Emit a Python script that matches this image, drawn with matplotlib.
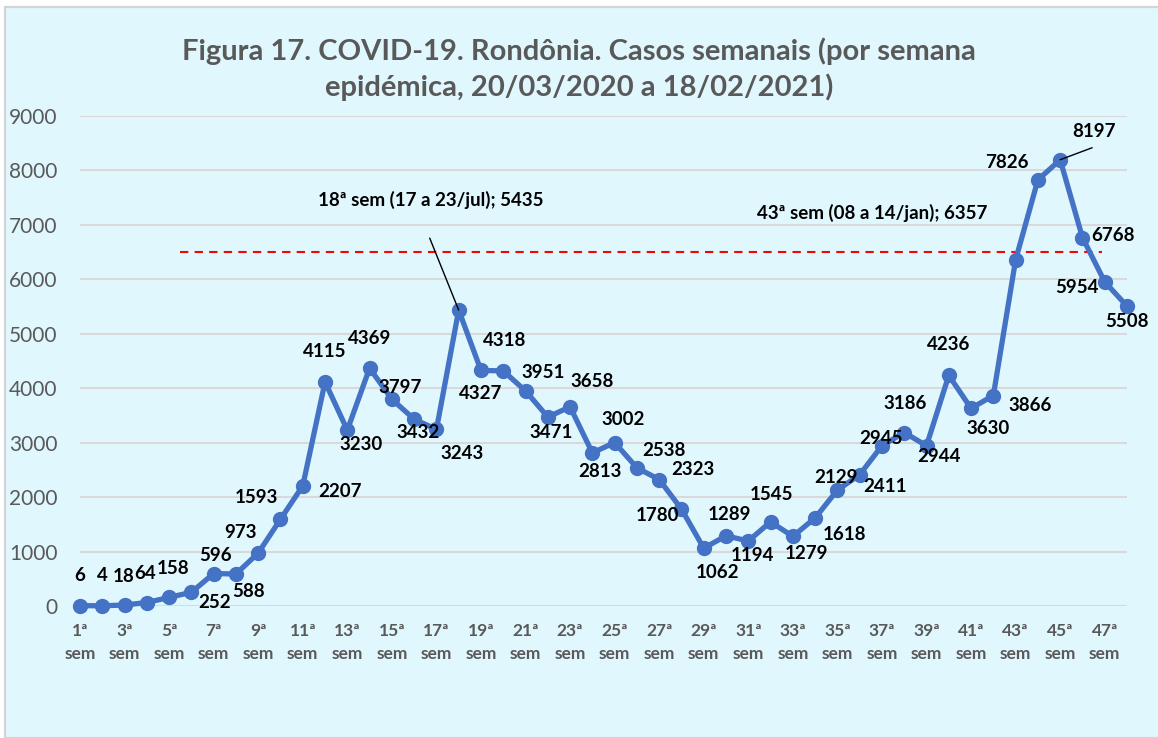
import matplotlib.pyplot as plt
from matplotlib.patches import Rectangle

plt.rcParams['font.family'] = ['Lato', 'DejaVu Sans']

# Casos semanais, semanas epidemiológicas 1 a 48
semanas = list(range(1, 49))
casos = [6, 4, 18, 64, 158, 252, 596, 588, 973, 1593, 2207, 4115, 3230, 4369,
         3797, 3432, 3243, 5435, 4327, 4318, 3951, 3471, 3658, 2813, 3002, 2538,
         2323, 1780, 1062, 1289, 1194, 1545, 1279, 1618, 2129, 2411, 2945, 3186,
         2944, 4236, 3630, 3866, 6357, 7826, 8197, 6768, 5954, 5508]
tick_semanas = list(range(1, 48, 2))
tick_labels = [f"{s}ª\nsem" for s in tick_semanas]
limiar = 6500
limiar_inicio, limiar_fim = 5.5, 46.9

# deslocamento dos rótulos em pixels (dx, dy para cima)
offsets = {
    1: (0, 30), 2: (0, 30), 3: (-1, 29), 4: (-2, 29), 5: (4, 29), 6: (23, -10),
    7: (2, 18), 8: (13, -18), 9: (-18, 21), 10: (-24, 22), 11: (37, -6),
    12: (0, 30), 13: (14, -14), 14: (0, 30), 15: (8, 12), 16: (4, -13),
    17: (26, -24), 19: (0, -23), 20: (1, 30), 21: (18, 18), 22: (3, -15),
    23: (22, 25), 24: (8, -19), 25: (8, 23), 26: (27, 17), 27: (34, 10),
    28: (-24, -6), 29: (14, -24), 30: (3, 21), 31: (4, -15), 32: (1, 27),
    33: (14, -17), 34: (29, -17), 35: (-1, 13), 36: (25, -12), 37: (-1, 7),
    38: (1, 29), 39: (12, -11), 40: (0, 31), 41: (17, -20), 42: (37, -10),
    44: (-31, 17), 46: (31, 2), 47: (-28, -6), 48: (0, -15),
}

W, H = 1158, 738
fig = plt.figure(figsize=(W / 100, H / 100), dpi=100)
fig.patch.set_facecolor('white')
fig.patches.append(Rectangle((5 / W, 0), 1, 1 - 7 / H, transform=fig.transFigure,
                             facecolor='#E1F7FE', edgecolor='#D4D4D4', linewidth=1.6, zorder=-10))

ax = fig.add_axes([80 / W, 1 - 606 / H, (1127 - 80) / W, (606 - 116) / H])
ax.set_facecolor('none')
ax.set_xlim(1, 48)
ax.set_ylim(0, 9000)
ax.set_yticks(range(0, 9001, 1000))
ax.yaxis.grid(True, color='#D9D9D9', linewidth=1.5)
ax.set_axisbelow(True)
for s in ax.spines.values():
    s.set_visible(False)
ax.tick_params(axis='y', length=0, pad=16, labelsize=15, labelcolor='#595959')
ax.tick_params(axis='x', length=0, pad=12, labelsize=12.5, labelcolor='#595959')
ax.set_xticks(tick_semanas)
ax.set_xticklabels(tick_labels, fontweight='bold', linespacing=1.55)

ax.plot([limiar_inicio, limiar_fim], [limiar, limiar], color='#FF0000',
        linestyle=(0, (4, 3)), linewidth=1.5, zorder=2)
ax.plot(semanas, casos, color='#4472C4', linewidth=3.8, marker='o',
        markersize=10, clip_on=False, zorder=3)

k = 0.72
for s, v in zip(semanas, casos):
    if s in offsets:
        dx, dy = offsets[s]
        ax.annotate(str(v), (s, v), xytext=(dx * k, dy * k), textcoords='offset points',
                    ha='center', va='center', fontsize=13.5, fontweight='bold',
                    color='black', zorder=4)

# anotações
ax.annotate(f"18ª sem (17 a 23/jul); {casos[17]}", (18, casos[17]),
            xytext=(-28 * k, 110 * k), textcoords='offset points',
            ha='center', va='center', fontsize=13.5, fontweight='bold')
ax.annotate("", (18, casos[17]), xytext=(-29 * k, 72 * k), textcoords='offset points',
            arrowprops=dict(arrowstyle='-', color='black', linewidth=1, shrinkA=0, shrinkB=0))
ax.annotate(f"43ª sem (08 a 14/jan); {casos[42]}", (43, casos[42]),
            xytext=(-143 * k, 47 * k), textcoords='offset points',
            ha='center', va='center', fontsize=13.5, fontweight='bold')
ax.annotate(str(casos[44]), (45, casos[44]), xytext=(34 * k, 28 * k), textcoords='offset points',
            ha='center', va='center', fontsize=13.5, fontweight='bold')
ax.annotate("", (45, casos[44]), xytext=(32 * k, 12 * k), textcoords='offset points',
            arrowprops=dict(arrowstyle='-', color='black', linewidth=1, shrinkA=0, shrinkB=0))

fig.text(0.5, 1 - 69 / H, "Figura 17. COVID-19. Rondônia. Casos semanais (por semana\nepidémica, 20/03/2020 a 18/02/2021)",
         ha='center', va='center', fontsize=21, fontweight='bold', color='#595959', linespacing=1.35)

fig.savefig('out.png', dpi=100, facecolor=fig.get_facecolor())
